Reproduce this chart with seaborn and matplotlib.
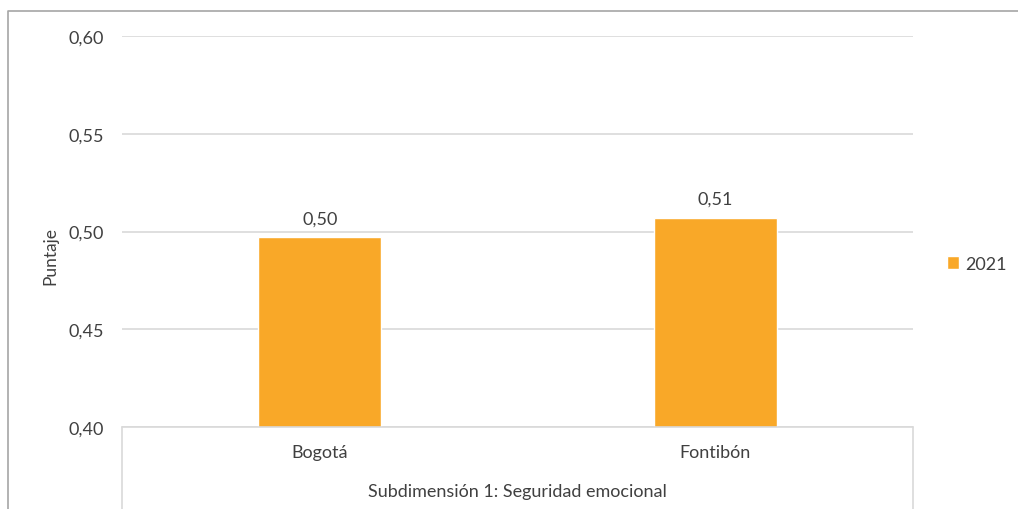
import pandas as pd
import matplotlib.pyplot as plt
import seaborn as sns
from matplotlib.lines import Line2D
from matplotlib.patches import Patch

# ---------------- Data ---------------- #
localidades = ['Bogotá', 'Fontibón']
puntajes = [0.497, 0.507]
etiquetas = ['0,50', '0,51']
anio = '2021'
y_ticks = [0.40, 0.45, 0.50, 0.55, 0.60]
y_tick_labels = ['0,40', '0,45', '0,50', '0,55', '0,60']
grupo = 'Subdimensión 1: Seguridad emocional'

df = pd.DataFrame({'Localidad': localidades, 'Puntaje': puntajes, 'Año': anio})

# ---------------- Style ---------------- #
sns.set_style('white')
plt.rcParams['font.family'] = ['Lato', 'DejaVu Sans']
TEXT = '#404040'
ORANGE = '#F9A828'
GRID = '#D9D9D9'
FS = 13

fig = plt.figure(figsize=(10.18, 5.10), dpi=100)
ax = fig.add_axes([122 / 1018, 1 - 428 / 510, (913 - 122) / 1018, (428 - 37) / 510])

sns.barplot(data=df, x='Localidad', y='Puntaje', hue='Año', palette=[ORANGE],
            width=0.31, ax=ax, legend=False, saturation=1)

ax.set_xlim(-0.5, 1.5)
ax.set_ylim(0.40, 0.60)
ax.set_yticks(y_ticks)
ax.set_yticklabels(y_tick_labels)
ax.yaxis.grid(True, color=GRID, linewidth=1.2)
ax.set_axisbelow(True)
for s in ax.spines.values():
    s.set_visible(False)
ax.tick_params(axis='y', length=0, pad=13, labelsize=FS, labelcolor=TEXT)
ax.tick_params(axis='x', length=0, pad=12, labelsize=FS, labelcolor=TEXT)
ax.set_xlabel('')
ax.set_ylabel('Puntaje', fontsize=FS - 0.5, color=TEXT)
ax.yaxis.set_label_coords(-0.08, 0.44)

ax.bar_label(ax.containers[0], labels=etiquetas, padding=8, fontsize=FS, color=TEXT)

# category group box
for x0 in (0, 1):
    ax.add_line(Line2D([x0, x0], [0, -0.3], transform=ax.transAxes,
                       color=GRID, linewidth=1.2, clip_on=False))
ax.add_line(Line2D([0, 1], [0, 0], transform=ax.transAxes,
                   color=GRID, linewidth=1.2, clip_on=False))
ax.text(0.5, -(492 - 428) / 391, grupo, transform=ax.transAxes,
        ha='center', va='center', fontsize=FS, color=TEXT)

# outer chart frame
fig.add_artist(Line2D([8 / 1018, 8 / 1018, 1.0], [0, 1 - 12 / 510, 1 - 12 / 510],
                      transform=fig.transFigure, color='#A6A6A6', linewidth=1.2))

ax.legend(handles=[Patch(facecolor=ORANGE, label=anio)], loc='center left',
          bbox_to_anchor=(1.022, 0.417), frameon=False, fontsize=FS,
          handlelength=0.7, handleheight=0.7, handletextpad=0.3, labelcolor=TEXT)

fig.savefig('out.png', dpi=100)
